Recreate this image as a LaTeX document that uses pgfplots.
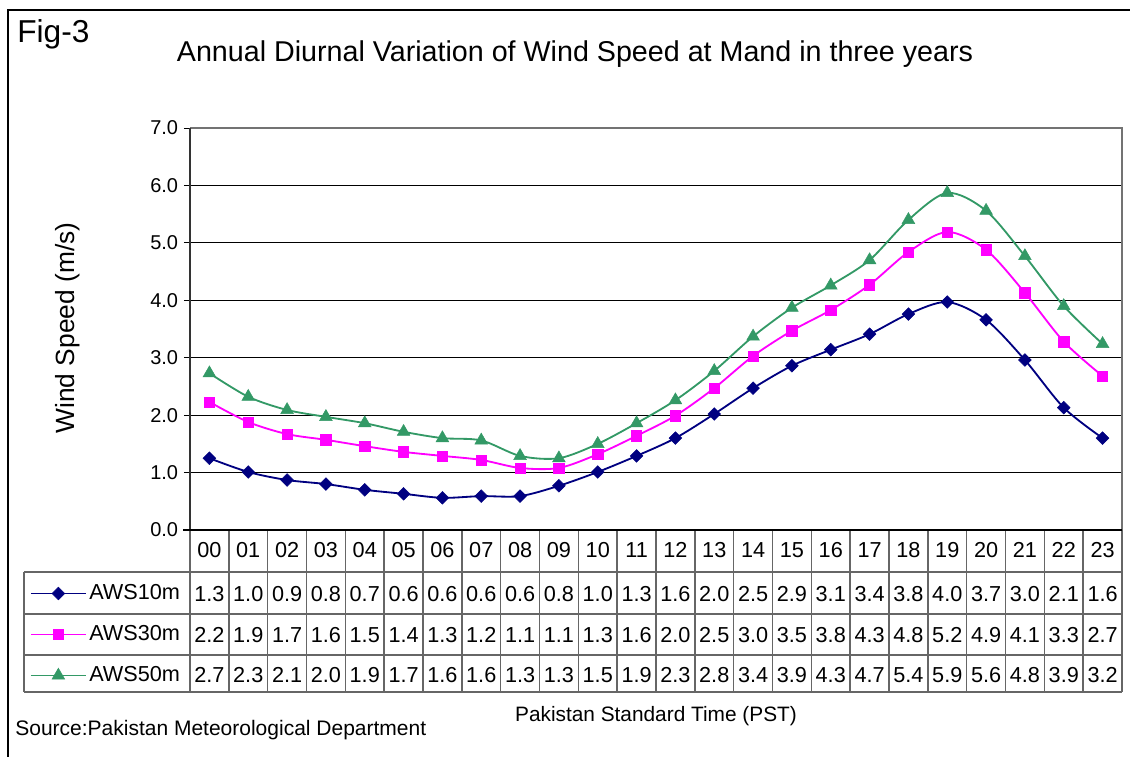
\documentclass[border=0pt]{standalone}
\usepackage{fontspec}
\setmainfont{Liberation Sans}
\usepackage{pgfplots}
\pgfplotsset{compat=1.18}
\definecolor{cnavy}{HTML}{000080}
\definecolor{cmag}{HTML}{FF00FF}
\definecolor{cgreen}{HTML}{339966}
\newcommand{\tfont}{\fontsize{13}{15}\selectfont}
\begin{document}
\begin{tikzpicture}
\begin{axis}[
  at={(0,0)}, anchor=south west,
  scale only axis, width=559.2pt, height=241.2pt,
  xmin=-0.5, xmax=23.5, ymin=0, ymax=7,
  axis line style={draw=none},
  xtick=\empty,
  ytick={0,1,2,3,4,5,6,7},
  ytick pos=left,
  tick align=outside,
  major tick length=3.6pt,
  tick style={black, line width=0.6pt},
  ymajorgrids, major grid style={black, line width=0.6pt},
  yticklabel style={font=\fontsize{12}{14}\selectfont, /pgf/number format/.cd, fixed, fixed zerofill, precision=1, assume math mode=true},
  ylabel={Wind Speed (m/s)},
  every axis y label/.style={at={(axis description cs:-0.1309,0.5025)}, rotate=90, anchor=center, font=\fontsize{15.8}{18}\selectfont},
  clip=false,
  legend style={at={(axis description cs:-0.1717,-0.107)}, anchor=north west, draw=none, fill=none, inner sep=0pt, outer sep=0pt, font=\tfont, row sep=0pt, column sep=1.5pt, nodes={minimum height=24.6pt, inner sep=0pt, anchor=west}},
  legend cell align=left,
  legend image code/.code={\draw[mark repeat=2, mark phase=2, line width=1.1pt] plot coordinates {(0pt,0pt) (16.5pt,0pt) (33pt,0pt)};},
  every axis plot/.append style={line width=1.1pt},
]
\addplot[cnavy, smooth, mark=square*, mark size=2.7pt, mark options={rotate=45, fill=cnavy, line width=0.3pt}] coordinates {
(0,1.25) (1,1.01) (2,0.87) (3,0.80) (4,0.70) (5,0.63) (6,0.56) (7,0.59) (8,0.59) (9,0.77) (10,1.01) (11,1.29)
(12,1.60) (13,2.02) (14,2.47) (15,2.86) (16,3.14) (17,3.41) (18,3.76) (19,3.97) (20,3.66) (21,2.96) (22,2.13) (23,1.60)};
\addlegendentry{AWS10m}
\addplot[cmag, smooth, mark=square*, mark size=3.1pt, mark options={fill=cmag, line width=0.3pt}] coordinates {
(0,2.23) (1,1.88) (2,1.67) (3,1.57) (4,1.46) (5,1.36) (6,1.29) (7,1.22) (8,1.08) (9,1.08) (10,1.32) (11,1.64)
(12,1.99) (13,2.47) (14,3.03) (15,3.47) (16,3.83) (17,4.27) (18,4.84) (19,5.19) (20,4.88) (21,4.13) (22,3.28) (23,2.68)};
\addlegendentry{AWS30m}
\addplot[cgreen, smooth, mark=triangle*, mark size=4.4pt, mark options={fill=cgreen, line width=0.3pt}] coordinates {
(0,2.73) (1,2.32) (2,2.09) (3,1.97) (4,1.86) (5,1.71) (6,1.60) (7,1.56) (8,1.29) (9,1.25) (10,1.50) (11,1.86)
(12,2.26) (13,2.77) (14,3.37) (15,3.87) (16,4.26) (17,4.70) (18,5.40) (19,5.87) (20,5.56) (21,4.77) (22,3.90) (23,3.24)};
\addlegendentry{AWS50m}
\end{axis}
\begin{scope}[x=0.6pt, y=-0.6pt, shift={(-114pt,318pt)}]
  % plot area frame
  \draw[black!55, line width=0.8pt] (190,128) -- (1122,128) -- (1122,530);
  \draw[black!80, line width=0.9pt] (190,128) -- (190,530);
  % data table grid
  \tikzset{tl/.style={black!60, line width=0.9pt}}
  \foreach \i in {0,...,24} \draw[tl] ({190+38.8333*\i},530) -- ({190+38.8333*\i},692);
  \draw[tl] (24,572) -- (24,692);
  \foreach \yy in {572,614,655,692} \draw[tl] (24,\yy) -- (1122,\yy);
  \draw[black, line width=0.9pt] (183,530) -- (1122,530);
  % header
  \foreach \h [count=\c from 0] in {00,01,02,03,04,05,06,07,08,09,10,11,12,13,14,15,16,17,18,19,20,21,22,23}
    \node[anchor=base, font=\tfont, inner sep=0pt] at ({190+38.8333*(\c+0.5)},557) {\h};
  \foreach \v [count=\c from 0] in {1.3,1.0,0.9,0.8,0.7,0.6,0.6,0.6,0.6,0.8,1.0,1.3,1.6,2.0,2.5,2.9,3.1,3.4,3.8,4.0,3.7,3.0,2.1,1.6}
    \node[anchor=base, font=\tfont, inner sep=0pt] at ({190+38.8333*(\c+0.5)},601) {\v};
  \foreach \v [count=\c from 0] in {2.2,1.9,1.7,1.6,1.5,1.4,1.3,1.2,1.1,1.1,1.3,1.6,2.0,2.5,3.0,3.5,3.8,4.3,4.8,5.2,4.9,4.1,3.3,2.7}
    \node[anchor=base, font=\tfont, inner sep=0pt] at ({190+38.8333*(\c+0.5)},642) {\v};
  \foreach \v [count=\c from 0] in {2.7,2.3,2.1,2.0,1.9,1.7,1.6,1.6,1.3,1.3,1.5,1.9,2.3,2.8,3.4,3.9,4.3,4.7,5.4,5.9,5.6,4.8,3.9,3.2}
    \node[anchor=base, font=\tfont, inner sep=0pt] at ({190+38.8333*(\c+0.5)},682) {\v};
  % texts
  \node[anchor=base west, inner sep=0pt, font=\fontsize{19}{22}\selectfont] at (17,43) {Fig-3};
  \node[anchor=base, inner sep=0pt, font=\fontsize{17.2}{20}\selectfont] at (575,62) {Annual Diurnal Variation of Wind Speed at Mand in three years};
  \node[anchor=base, inner sep=0pt, font=\fontsize{12.5}{14}\selectfont] at (656,721) {Pakistan Standard Time (PST)};
  \node[anchor=base west, inner sep=0pt, font=\fontsize{12.6}{14}\selectfont] at (15,735) {Source:Pakistan Meteorological Department};
  % outer frame
  \draw[black, line width=1.1pt] (1135,10) -- (8,10) -- (8,760);
  \pgfresetboundingbox
  \path[use as bounding box] (0,0) rectangle (1130,756);
\end{scope}
\end{tikzpicture}
\end{document}
